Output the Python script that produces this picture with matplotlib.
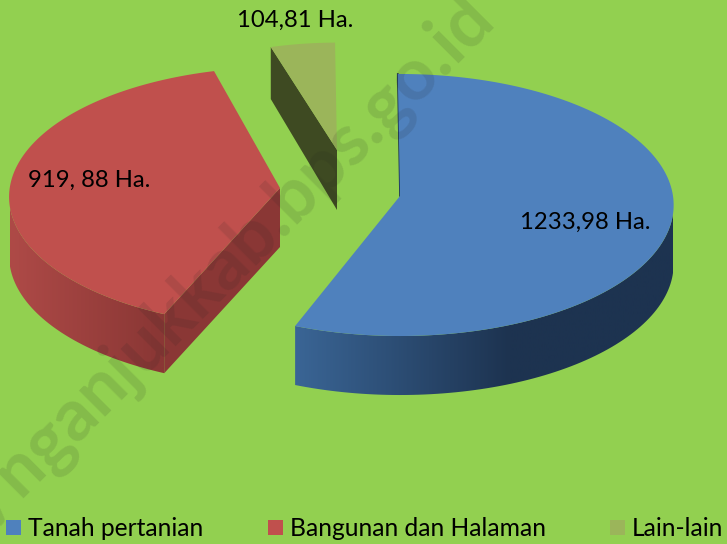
import numpy as np
import matplotlib
matplotlib.use("Agg")
import matplotlib.pyplot as plt
from matplotlib.patches import Polygon, Rectangle
from matplotlib.colors import LinearSegmentedColormap

categories = ["Tanah pertanian", "Bangunan dan Halaman", "Lain-lain"]
values = [1233.98, 919.88, 104.81]
value_labels = ["1233,98 Ha.", "919, 88 Ha.", "104,81 Ha."]

bg = "#92D050"
top_colors = ["#4F81BD", "#C0504D", "#9BB55A"]
side_grads = [["#3A6595", "#1D3350"], ["#AE4A47", "#8A3735"], ["#3E4A22", "#3E4A22"]]
edge_colors = ["#1D3350", "#8A3735", "#3E4A22"]

# slice placement on the canvas (pixels), apex of each exploded slice
apex = [(400, 196), (280, 188), (337, 150)]
scale = [1.0, 0.99, 0.88]
turn = [-0.5, 1.5, -0.5]
warp = [5.0, 5.6, 6.0]
depth = [59, 59, 58]
RX, RY, P = 273, 130.4, 0.0687

plt.rcParams["font.family"] = ["Lato", "DejaVu Sans"]
fig = plt.figure(figsize=(7.27, 5.44), dpi=100, facecolor=bg)
ax = fig.add_axes([0, 0, 1, 1])
ax.set_facecolor(bg)


def rim(i, a0, a1):
    # points on the rim of slice i between two pie angles (degrees, clockwise from top)
    t = np.radians(np.linspace(a0, a1, 160))
    t = t + np.radians(warp[i] * np.sin(t / 2) ** 2 + turn[i])
    X, Y = np.sin(t), np.cos(t)
    s = 1 / (1 + P * Y)
    return apex[i][0] + RX * scale[i] * X * s, apex[i][1] - RY * scale[i] * Y * s


fractions = np.array(values) / sum(values)
ends = np.cumsum(fractions) * 360
starts = ends - fractions * 360

for i in [1, 0, 2]:
    x, y = rim(i, starts[i], ends[i])
    ax_, ay_ = apex[i]
    d = depth[i]

    # outer wall, only the part that faces the viewer
    if i == 0:
        k = np.where(y >= ay_)[0]
    elif i == 1:
        k = np.arange(np.argmin(x) + 1)
    else:
        k = np.array([], dtype=int)

    if len(k):
        wx, wy = x[k], y[k]
        wall = np.column_stack([np.r_[wx, wx[::-1]], np.r_[wy, wy[::-1] + d]])
        patch = Polygon(wall, closed=True, fc="none", ec="none")
        ax.add_patch(patch)
        cmap = LinearSegmentedColormap.from_list("w", side_grads[i])
        if i == 0:
            g = np.clip((np.linspace(295, 673, 256) - 295) / 215, 0, 1)
            ext = [295, 673, 460, 60]
        else:
            g = np.clip((np.linspace(10, 170, 256) - 10) / 150, 0, 1)
            ext = [10, 170, 460, 60]
        im = ax.imshow(g[None, :], cmap=cmap, vmin=0, vmax=1, extent=ext, aspect="auto", zorder=2)
        im.set_clip_path(patch)

    # flat cut faces
    if i == 1:
        ax.add_patch(Polygon([(ax_, ay_), (x[0], y[0]), (x[0], y[0] + d), (ax_, ay_ + d)],
                             fc=edge_colors[i], ec="none", zorder=3))
    if i == 2:
        ax.add_patch(Polygon([(ax_, ay_), (x[0], y[0]), (x[0], y[0] + d - 6), (ax_, ay_ + d + 2)],
                             fc=edge_colors[i], ec="none", zorder=3))
    if i == 0:
        ax.plot([ax_, x[0]], [ay_, y[0]], color=edge_colors[i], lw=1.2, zorder=3)

    top = np.column_stack([np.r_[ax_, x], np.r_[ay_, y]])
    ax.add_patch(Polygon(top, closed=True, fc=top_colors[i], ec="none", zorder=4))

# value labels
label_pos = [(585, 222), (89, 180), (295, 20)]
for lab, (tx, ty) in zip(value_labels, label_pos):
    ax.text(tx, ty, lab, fontsize=17.2, color="black", ha="center", va="center", zorder=6)

# legend along the bottom edge
legend_x = [6, 268, 610]
for name, c, lx in zip(categories, top_colors, legend_x):
    ax.add_patch(Rectangle((lx, 520), 15, 15, fc=c, ec="none", zorder=6))
    ax.text(lx + 22, 528, name, fontsize=17.7, color="black", ha="left", va="center", zorder=6)

# site watermark
ax.text(482, 6, "http://nganjukkab.bps.go.id", fontsize=52, fontweight="bold", color="#202020",
        alpha=0.12, rotation=45, rotation_mode="anchor", ha="right", va="center", zorder=7)

ax.set_xlim(0, 727)
ax.set_ylim(544, 0)
ax.axis("off")
fig.savefig("out.png", dpi=100, facecolor=bg)
